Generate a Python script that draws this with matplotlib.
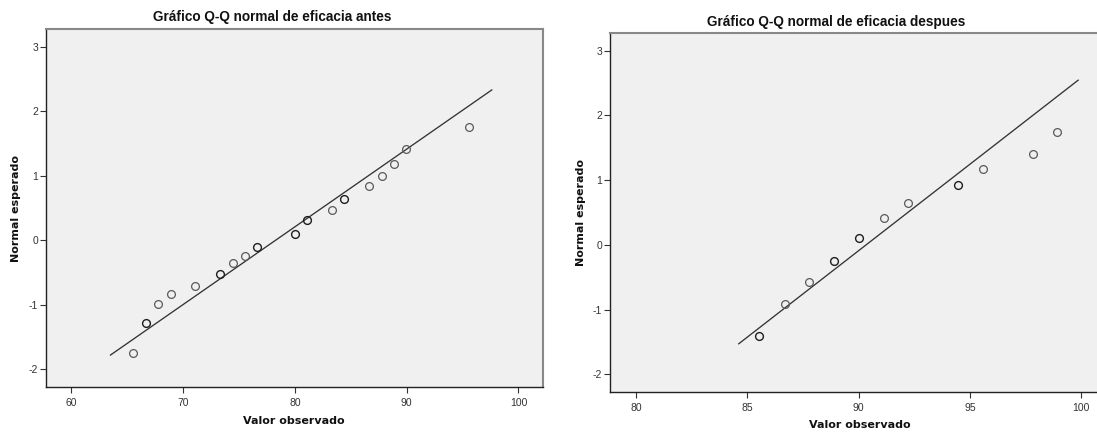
import matplotlib
matplotlib.use("Agg")
import matplotlib.pyplot as plt

plt.rcParams['axes.unicode_minus'] = False

# ---- data: left panel (eficacia antes) ----
antes_obs = [65.55, 66.68, 67.78, 68.91, 71.11, 73.33, 74.43, 75.56, 76.66,
             80.02, 81.11, 83.31, 84.44, 86.64, 87.76, 88.86, 89.99, 95.55]
antes_exp = [-1.75, -1.28, -0.99, -0.84, -0.71, -0.52, -0.36, -0.25, -0.10,
             0.10, 0.31, 0.47, 0.64, 0.84, 1.00, 1.18, 1.41, 1.75]
antes_count = [1, 2, 1, 1, 1, 2, 1, 1, 2, 2, 2, 1, 2, 1, 1, 1, 1, 1]
antes_line_x = [63.51, 97.62]
antes_line_y = [-1.78, 2.33]

# ---- data: right panel (eficacia despues) ----
desp_obs = [85.54, 86.67, 87.78, 88.89, 90.01, 91.12, 92.24, 94.46, 95.59, 97.82, 98.93]
desp_exp = [-1.41, -0.92, -0.58, -0.25, 0.10, 0.41, 0.64, 0.92, 1.17, 1.41, 1.75]
desp_count = [2, 1, 1, 2, 2, 1, 1, 2, 1, 1, 1]
desp_line_x = [84.61, 99.87]
desp_line_y = [-1.53, 2.545]

yticks = [-2, -1, 0, 1, 2, 3]
antes_xticks = [60, 70, 80, 90, 100]
desp_xticks = [80, 85, 90, 95, 100]

titles = ["Gráfico Q-Q normal de eficacia antes", "Gráfico Q-Q normal de eficacia despues"]
xlabel = "Valor observado"
ylabel = "Normal esperado"

W, H = 1097, 434
fig = plt.figure(figsize=(W / 100, H / 100), dpi=100)
fig.patch.set_facecolor("white")


def px_axes(x0, x1, ytop, ybot):
    return fig.add_axes([x0 / W, 1 - ybot / H, (x1 - x0) / W, (ybot - ytop) / H])


def style(ax, xlim, xticks):
    ax.set_facecolor("#f0f0f0")
    ax.set_xlim(*xlim)
    ax.set_ylim(-2.28, 3.27)
    ax.set_xticks(xticks)
    ax.set_yticks(yticks)
    ax.set_xticklabels([str(t) for t in xticks], fontsize=7.5, color="#333333",
                       family="Liberation Sans")
    ax.set_yticklabels([str(t) for t in yticks], fontsize=7.5, color="#333333",
                       family="Liberation Sans")
    ax.tick_params(axis="both", direction="out", length=4, width=0.8, color="#333333", pad=2)
    ax.tick_params(axis="x", pad=4)
    for s in ["left", "bottom"]:
        ax.spines[s].set_color("#222222")
        ax.spines[s].set_linewidth(1.0)
    for s in ["top", "right"]:
        ax.spines[s].set_color("#888888")
        ax.spines[s].set_linewidth(1.5)


def draw(ax, obs, exp, cnt, lx, ly):
    ax.plot(lx, ly, color="#333333", lw=0.95, zorder=2)
    for x, y, c in zip(obs, exp, cnt):
        ax.plot([x], [y], marker="o", ms=5.6, mfc="none",
                mec="#1e1e1e" if c > 1 else "#5a5a5a", mew=1.0 if c > 1 else 0.9,
                ls="none", zorder=3)


ax1 = px_axes(46.3, 543.0, 29.3, 387.3)
style(ax1, (57.77, 102.2), antes_xticks)
draw(ax1, antes_obs, antes_exp, antes_count, antes_line_x, antes_line_y)

ax2 = px_axes(610.4, 1105.5, 33.3, 392.3)
style(ax2, (78.84, 101.1), desp_xticks)
draw(ax2, desp_obs, desp_exp, desp_count, desp_line_x, desp_line_y)

# titles
fig.text(272 / W, 1 - 17.0 / H, titles[0], ha="center", va="center",
         fontsize=9.8, fontweight="bold", family="Liberation Sans", color="#111111")
fig.text(836.6 / W, 1 - 22.4 / H, titles[1], ha="center", va="center",
         fontsize=9.8, fontweight="bold", family="Liberation Sans", color="#111111")

# axis labels
fig.text(294 / W, 1 - 420.7 / H, xlabel, ha="center", va="center",
         fontsize=8, fontweight="bold", family="DejaVu Sans", color="#111111")
fig.text(860 / W, 1 - 425 / H, xlabel, ha="center", va="center",
         fontsize=8, fontweight="bold", family="DejaVu Sans", color="#111111")
fig.text(15.8 / W, 1 - 208 / H, ylabel, ha="center", va="center", rotation=90,
         fontsize=8, fontweight="bold", family="DejaVu Sans", color="#111111")
fig.text(580.7 / W, 1 - 213 / H, ylabel, ha="center", va="center", rotation=90,
         fontsize=8, fontweight="bold", family="DejaVu Sans", color="#111111")

fig.savefig("out.png", dpi=100, facecolor="white")
